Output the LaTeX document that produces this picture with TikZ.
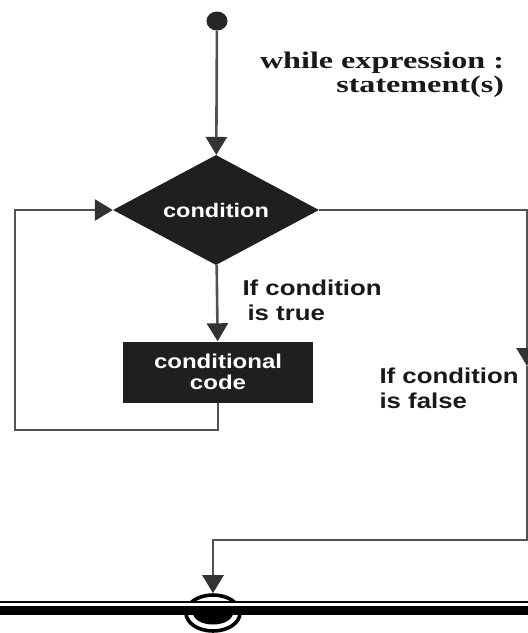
\documentclass[tikz,border=0pt]{standalone}
\usepackage{fontspec}
\setmainfont{Liberation Sans}
\newfontfamily\boxfont[FakeStretch=1.2]{Liberation Sans}
\newfontfamily\syntaxfont[FakeStretch=1.35]{Liberation Serif}
\usetikzlibrary{shapes.geometric,arrows.meta}
\colorlet{flowline}{black!68}
\colorlet{blockfill}{black!88}

\begin{document}
\begin{tikzpicture}[
            x=1pt,y=-1pt,
            every node/.append style={black},
            flow/.style={flowline,line width=2.6pt},
            tip/.style={-{Triangle[length=18pt,width=21pt,color=black!80]}},
            block/.style={fill=blockfill,text=white,inner sep=0pt,
                font=\boxfont\bfseries\fontsize{19.6}{21}\selectfont},
            note/.style={align=left,anchor=west,text=black!90,
                font=\boxfont\bfseries\fontsize{21.5}{25}\selectfont}
        ]
            \useasboundingbox (0,0) rectangle (528,633);
            \node [fill=black!85,ellipse,inner sep=0pt,
                minimum width=21,minimum height=19] (start) at (217,21) {};
            \node [block,diamond,aspect=1.87,
                minimum width=206,minimum height=110] (cond) at (216,210) {condition};
            \node [block,align=center,minimum width=190,minimum height=61,
                font=\boxfont\bfseries\fontsize{20}{21}\selectfont] (code) at (218,372) {conditional\\code};
            \node [draw=black,line width=3.6pt,ellipse,inner sep=0pt,
                minimum width=54,minimum height=36] (stop) at (213,613) {};
            \node [fill=black,ellipse,inner sep=0pt,
                minimum width=40,minimum height=23] (stopcore) at (stop) {};

            % labels
            \node [align=right,text=black!90,
                font=\syntaxfont\bfseries\fontsize{23.8}{24}\selectfont] (syntax) at (382,75)
                {while expression :\\statement(s)};
            \node [note] (truelbl) at (239,300) {If condition\\\hspace*{5pt}is true};
            \node [note] (falselbl) at (376,388) {If condition\\is false};

            % corners of the two branches
            \coordinate (loopbl) at (15,430);
            \coordinate (looptl) at (15,210);
            \coordinate (falsetr) at (527,210);
            \coordinate (falsemid) at (527,366);
            \coordinate (falsebr) at (527,540);

            \draw [flow,tip] (start) -- (cond);
            \draw [flow,tip] (cond) -- (code);
            \draw [flow,tip] (code.south)
                |- (loopbl)
                -- (looptl)
                -- (cond.west)
            ;
            \draw [flow,tip] (cond.east)
                -- (falsetr)
                -- (falsemid)
            ;
            \draw [flow,tip] (falsemid)
                -- (falsebr)
                -| (stop)
            ;

            % floor under the end mark
            \fill [white] (0,603) rectangle (528,606);
            \draw [black,line width=1.8pt] (0,602) -- (528,602);
            \fill [black] (0,606) rectangle (528,614.5);
        \end{tikzpicture}
\end{document}
